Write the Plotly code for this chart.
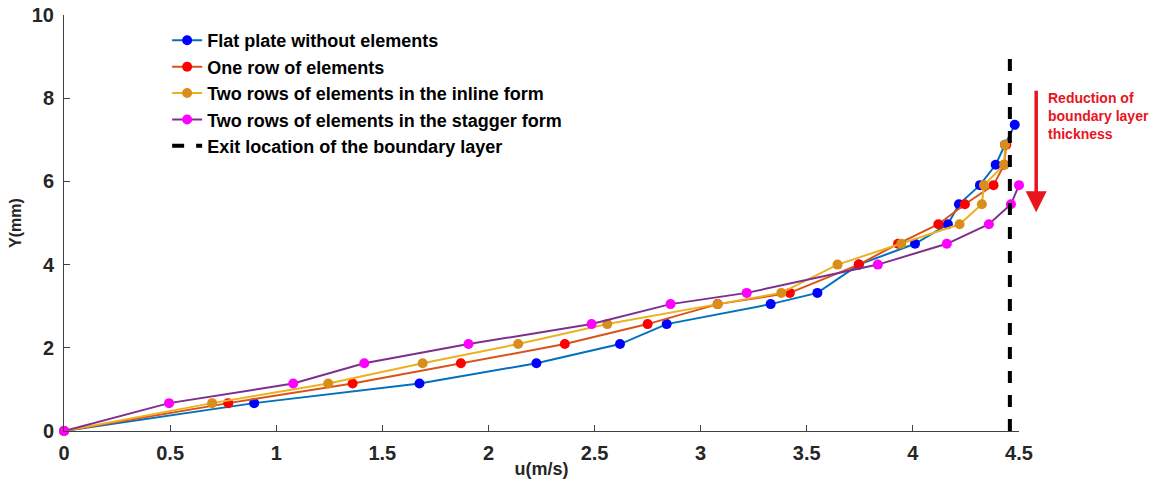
import plotly.graph_objects as go

# ---- data ----
y_levels = [0, 0.67, 1.14, 1.63, 2.09, 2.57, 3.05, 3.32, 4.0, 4.5, 4.97, 5.45, 5.91, 6.4, 6.88, 7.36]

u_flat = [0, 0.896, 1.675, 2.226, 2.62, 2.84, 3.33, 3.55, 3.745, 4.01, 4.165, 4.217, 4.316, 4.39, 4.434, 4.48]
y_flat = y_levels[:16]

u_one = [0, 0.774, 1.36, 1.87, 2.36, 2.75, 3.08, 3.42, 3.745, 3.93, 4.12, 4.245, 4.38, 4.43, 4.44]
y_one = y_levels[:15]

u_inline = [0, 0.698, 1.245, 1.69, 2.14, 2.56, 3.08, 3.38, 3.645, 3.945, 4.22, 4.325, 4.335, 4.43, 4.434]
y_inline = y_levels[:15]

u_stagger = [0, 0.495, 1.08, 1.415, 1.906, 2.486, 2.858, 3.217, 3.835, 4.16, 4.358, 4.462, 4.5]
y_stagger = y_levels[:13]

exit_u = [4.457, 4.457]
exit_y = [0, 9.04]

names = [
    "Flat plate without elements",
    "One row of elements",
    "Two rows of elements in the inline form",
    "Two rows of elements in the stagger form",
]
exit_name = "Exit location of the boundary layer"
line_colors = ["#0072BD", "#D95319", "#EDB120", "#7E2F8E"]
marker_colors = ["#0000FF", "#FF0000", "#D98E1A", "#FF00FF"]

x_ticks = [0, 0.5, 1, 1.5, 2, 2.5, 3, 3.5, 4, 4.5]
x_ticklabels = ["0", "0.5", "1", "1.5", "2", "2.5", "3", "3.5", "4", "4.5"]
y_ticks = [0, 2, 4, 6, 8, 10]

fig = go.Figure()
series = [(u_flat, y_flat), (u_one, y_one), (u_inline, y_inline), (u_stagger, y_stagger)]
for (u, y), n, lc, mc in zip(series, names, line_colors, marker_colors):
    fig.add_trace(go.Scatter(
        x=u, y=y, mode="lines+markers", name="<b>" + n + "</b>",
        line=dict(color=lc, width=2),
        marker=dict(color=mc, size=10, line=dict(width=0)),
        cliponaxis=False,
    ))

# exit location of the boundary layer: black dashed vertical line
fig.add_trace(go.Scatter(
    x=exit_u, y=exit_y, mode="lines", name="<b>" + exit_name + "</b>",
    line=dict(color="black", width=4, dash="dash"),
))

# red arrow and its note (paper coordinates: they sit right of the x range)
fig.add_annotation(
    x=1.018, y=0.526, xref="paper", yref="paper",
    ax=0, ay=-123, axref="pixel", ayref="pixel",
    showarrow=True, arrowhead=2, arrowsize=1.2, arrowwidth=3.5, arrowcolor="#E8141E", text="",
)
fig.add_annotation(
    x=1.028, y=0.825, xref="paper", yref="paper", xanchor="left", yanchor="top",
    text="<b>Reduction of<br>boundary layer<br>thickness</b>", showarrow=False, align="left",
    font=dict(color="#E8141E", size=14, family="Arial"),
)

axis_common = dict(
    showgrid=False, zeroline=False, showline=True, linecolor="#404040", linewidth=1,
    ticks="inside", ticklen=6, tickcolor="#404040", mirror=False, automargin=False,
    tickfont=dict(size=20, family="Arial", color="#262626"),
)
fig.update_xaxes(range=[0, 4.5], tickvals=x_ticks, ticktext=["<b>%s</b>" % t for t in x_ticklabels],
                 ticklabelstandoff=4,
                 title=dict(text="<b>u(m/s)</b>", font=dict(size=18, family="Arial", color="#262626"), standoff=0),
                 **axis_common)
fig.update_yaxes(range=[0, 10], tickvals=y_ticks, ticktext=["<b>%d</b>" % t for t in y_ticks],
                 ticklabelstandoff=5,
                 title=dict(text="<b>Y(mm)</b>", font=dict(size=16, family="Arial", color="#262626"), standoff=6),
                 **axis_common)

fig.update_layout(
    width=1150, height=479,
    margin=dict(l=64, r=131, t=15, b=48, autoexpand=False),
    plot_bgcolor="white", paper_bgcolor="white",
    font=dict(family="Arial", color="#000000"),
    legend=dict(x=0.108, y=0.983, xanchor="left", yanchor="top",
                font=dict(size=18, family="Arial", color="#000000"),
                bgcolor="rgba(0,0,0,0)", tracegroupgap=0, itemwidth=30),
    showlegend=True,
)

fig.write_html("out.html")
